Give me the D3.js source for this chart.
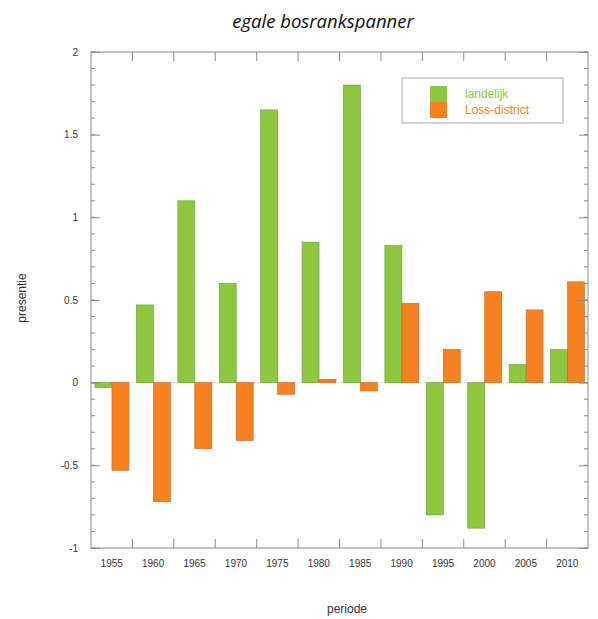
<!DOCTYPE html>
<html>
<head>
<meta charset="utf-8">
<script src="https://cdn.jsdelivr.net/npm/d3@7"></script>
<style>
  body { margin: 0; background: #fff; }
  svg { display: block; }
</style>
</head>
<body>
<svg id="chart"></svg>
<script>
// data
var periods = ["1955", "1960", "1965", "1970", "1975", "1980", "1985", "1990", "1995", "2000", "2005", "2010"];
var landelijk = [-0.03, 0.47, 1.10, 0.60, 1.65, 0.85, 1.80, 0.83, -0.80, -0.88, 0.11, 0.20];
var lossDistrict = [-0.53, -0.72, -0.40, -0.35, -0.07, 0.02, -0.05, 0.48, 0.20, 0.55, 0.44, 0.61];
var seriesNames = ["landelijk", "Loss-district"];
var yTicks = [-1, -0.5, 0, 0.5, 1, 1.5, 2];

var colors = ["#8dc63f", "#f5821f"];
var strokes = ["#6f9a30", "#c8661a"];
var labelFont = '"Liberation Sans", Arial, sans-serif';

var svgWidth = 598, svgHeight = 619;
var plotLeft = 91, plotRight = 588, plotTop = 52, plotBottom = 548;

var svg = d3.select('#chart')
    .attr('width', svgWidth)
    .attr('height', svgHeight);

var x = d3.scaleBand()
    .domain(periods)
    .range([plotLeft, plotRight])
    .padding(0);

var x1 = d3.scaleBand()
    .domain(seriesNames)
    .range([4, x.bandwidth() - 3.5])
    .padding(0);

var y = d3.scaleLinear()
    .domain([-1, 2])
    .range([plotBottom, plotTop]);

// zero line
svg.append('line')
    .attr('x1', plotLeft).attr('x2', plotRight)
    .attr('y1', y(0)).attr('y2', y(0))
    .attr('stroke', '#e2e2e2');

// bars
var rows = periods.map(function(p, i) {
    return { period: p, values: [landelijk[i], lossDistrict[i]] };
});

var groups = svg.selectAll('g.period')
    .data(rows)
    .enter()
    .append('g')
    .attr('class', 'period')
    .attr('transform', function(d) { return 'translate(' + x(d.period) + ',0)'; });

groups.selectAll('rect')
    .data(function(d) { return d.values.map(function(v, j) { return { name: seriesNames[j], value: v, j: j }; }); })
    .enter()
    .append('rect')
    .attr('x', function(d) { return x1(d.name); })
    .attr('width', x1.bandwidth())
    .attr('y', function(d) { return y(Math.max(0, d.value)); })
    .attr('height', function(d) { return Math.abs(y(d.value) - y(0)); })
    .attr('fill', function(d) { return colors[d.j]; })
    .attr('stroke', function(d) { return strokes[d.j]; })
    .attr('stroke-width', 0.6);

// frame
svg.append('rect')
    .attr('x', plotLeft).attr('y', plotTop)
    .attr('width', plotRight - plotLeft).attr('height', plotBottom - plotTop)
    .attr('fill', 'none')
    .attr('stroke', '#8a8a8a')
    .attr('stroke-width', 1);

// y axes (ticks inside)
var minorTicks = d3.range(-10, 21).map(function(i) { return i / 10; });

var yLeft = d3.axisRight(y).tickValues(yTicks).tickSize(9)
    .tickFormat(function(d) { return String(d); });   // plain hyphen minus
var gL = svg.append('g').attr('transform', 'translate(' + plotLeft + ',0)').call(yLeft);
gL.select('.domain').remove();
gL.selectAll('.tick line').attr('stroke', '#8a8a8a');
gL.selectAll('.tick text')
    .attr('x', -13)
    .attr('text-anchor', 'end')
    .attr('fill', '#333')
    .style('font-family', labelFont)
    .style('font-size', '10px');

svg.append('g').selectAll('line')
    .data(minorTicks)
    .enter()
    .append('line')
    .attr('x1', plotLeft).attr('x2', plotLeft + 4)
    .attr('y1', function(d) { return y(d); }).attr('y2', function(d) { return y(d); })
    .attr('stroke', '#8a8a8a');

var yRight = d3.axisLeft(y).tickValues(yTicks).tickSize(9).tickFormat('');
var gR = svg.append('g').attr('transform', 'translate(' + plotRight + ',0)').call(yRight);
gR.select('.domain').remove();
gR.selectAll('.tick line').attr('stroke', '#8a8a8a');

svg.append('g').selectAll('line')
    .data(minorTicks)
    .enter()
    .append('line')
    .attr('x1', plotRight).attr('x2', plotRight - 4)
    .attr('y1', function(d) { return y(d); }).attr('y2', function(d) { return y(d); })
    .attr('stroke', '#8a8a8a');

// x axis: labels under each band, ticks at band boundaries
var xBottom = d3.axisBottom(x).tickSize(0).tickPadding(12);
var gB = svg.append('g').attr('transform', 'translate(0,' + plotBottom + ')').call(xBottom);
gB.select('.domain').remove();
gB.selectAll('.tick text')
    .attr('fill', '#333')
    .style('font-family', labelFont)
    .style('font-size', '10px');

var bounds = periods.slice(1);
svg.append('g').selectAll('line')
    .data(bounds)
    .enter()
    .append('line')
    .attr('x1', function(d) { return x(d); }).attr('x2', function(d) { return x(d); })
    .attr('y1', plotBottom).attr('y2', plotBottom - 9)
    .attr('stroke', '#8a8a8a');

svg.append('g').selectAll('line')
    .data(bounds)
    .enter()
    .append('line')
    .attr('x1', function(d) { return x(d); }).attr('x2', function(d) { return x(d); })
    .attr('y1', plotTop).attr('y2', plotTop + 9)
    .attr('stroke', '#8a8a8a');

// titles
svg.append('text')
    .attr('x', 323).attr('y', 28)
    .attr('text-anchor', 'middle')
    .style('font-family', '"Open Sans", "Noto Sans", sans-serif')
    .style('font-style', 'italic')
    .style('font-size', '18.5px')
    .attr('fill', '#111')
    .text('egale bosrankspanner');

svg.append('text')
    .attr('x', 347).attr('y', 613)
    .attr('text-anchor', 'middle')
    .style('font-family', labelFont)
    .style('font-size', '12px')
    .attr('fill', '#333')
    .text('periode');

svg.append('text')
    .attr('transform', 'translate(26,298) rotate(-90)')
    .attr('text-anchor', 'middle')
    .style('font-family', labelFont)
    .style('font-size', '12px')
    .attr('fill', '#333')
    .text('presentie');

// legend
var legend = svg.append('g');
legend.append('rect')
    .attr('x', 402).attr('y', 78)
    .attr('width', 161).attr('height', 45)
    .attr('fill', '#fff')
    .attr('stroke', '#aaa');

seriesNames.forEach(function(name, i) {
    legend.append('rect')
        .attr('x', 430).attr('y', 86 + i * 16)
        .attr('width', 17).attr('height', 16)
        .attr('fill', colors[i]);
    legend.append('text')
        .attr('x', 465).attr('y', 98 + i * 16)
        .style('font-family', labelFont)
        .style('font-size', '12px')
        .attr('fill', colors[i])
        .text(name);
});
</script>
</body>
</html>
